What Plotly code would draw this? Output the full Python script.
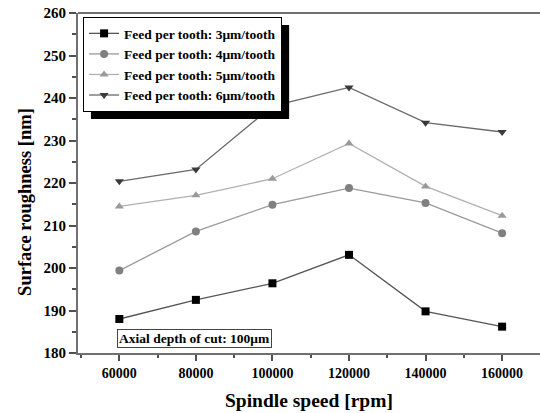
import plotly.graph_objects as go

spindle_speed = [60000, 80000, 100000, 120000, 140000, 160000]
feed_labels = ["Feed per tooth: 3\u03bcm/tooth", "Feed per tooth: 4\u03bcm/tooth",
               "Feed per tooth: 5\u03bcm/tooth", "Feed per tooth: 6\u03bcm/tooth"]
rough_3 = [188.0, 192.5, 196.4, 203.1, 189.8, 186.2]
rough_4 = [199.4, 208.6, 214.9, 218.8, 215.3, 208.2]
rough_5 = [214.5, 217.1, 221.0, 229.3, 219.2, 212.3]
rough_6 = [220.4, 223.2, 238.1, 242.5, 234.2, 232.0]

series = [rough_3, rough_4, rough_5, rough_6]
symbols = ["square", "circle", "triangle-up", "triangle-down"]
marker_colors = ["#000000", "#808080", "#999999", "#3a3a3a"]
line_colors = ["#555555", "#9a9a9a", "#b0b0b0", "#6a6a6a"]

FONT = "Liberation Serif"

fig = go.Figure()
for name, ys, sym, mc, lc in zip(feed_labels, series, symbols, marker_colors, line_colors):
    fig.add_trace(go.Scatter(
        x=spindle_speed, y=ys, name=name, mode="lines+markers",
        line=dict(color=lc, width=1.3),
        marker=dict(symbol=sym, color=mc, size=8, line=dict(width=0)),
    ))

fig.update_layout(
    width=540, height=413,
    margin=dict(l=78, r=0, t=13, b=60),
    paper_bgcolor="white", plot_bgcolor="white",
    font=dict(family=FONT, size=12, color="black", weight="bold"),
    showlegend=True,
    legend=dict(
        x=0.011, y=0.988, xanchor="left", yanchor="top",
        bgcolor="white", bordercolor="black", borderwidth=1,
        font=dict(family=FONT, size=13.5, weight="bold"),
        tracegroupgap=0, itemwidth=30,
    ),
    xaxis=dict(
        range=[49200, 169900], tickvals=spindle_speed,
        ticktext=[str(v) for v in spindle_speed],
        automargin=False,
        showgrid=False, zeroline=False,
        showline=True, linecolor="#707070", linewidth=2,
        ticks="outside", ticklen=6, tickwidth=1.5, tickcolor="#505050",
        minor=dict(ticks="outside", ticklen=3, tickwidth=1.5, tickcolor="#505050",
                   tickvals=[50000, 70000, 90000, 110000, 130000, 150000, 170000]),
        tickfont=dict(family=FONT, size=14, weight="bold"),
    ),
    yaxis=dict(
        range=[180, 260], dtick=10, tick0=180,
        automargin=False,
        showgrid=False, zeroline=False,
        showline=True, linecolor="#707070", linewidth=2,
        ticks="outside", ticklen=7, tickwidth=1.5, tickcolor="#505050",
        minor=dict(ticks="outside", ticklen=4, tickwidth=1.5, tickcolor="#505050", dtick=5),
        tickfont=dict(family=FONT, size=15, weight="bold"),
    ),
)

# axis titles
fig.add_annotation(xref="paper", yref="paper", x=0.5, y=-0.139, xanchor="center", yanchor="middle",
                   text="Spindle speed [rpm]", showarrow=False,
                   font=dict(family=FONT, size=19.5, weight="bold"))
fig.add_annotation(xref="paper", yref="paper", x=-0.115, y=0.444, xanchor="center", yanchor="middle",
                   text="Surface roughness [nm]", showarrow=False, textangle=-90,
                   font=dict(family=FONT, size=18.5, weight="bold"))

# top frame line
fig.add_shape(type="line", xref="paper", yref="paper", x0=0, x1=1, y0=1, y1=1,
              line=dict(color="#707070", width=2), layer="above")

# legend drop shadow
fig.add_shape(type="rect", xref="paper", yref="paper",
              x0=0.028, x1=0.457, y0=0.688, y1=0.965,
              fillcolor="black", line=dict(width=0), layer="above")

fig.add_annotation(
    xref="paper", yref="paper", x=0.084, y=0.044, xanchor="left", yanchor="middle",
    text="Axial depth of cut: 100\u03bcm", showarrow=False,
    font=dict(family=FONT, size=13.5, weight="bold"),
    bordercolor="#444444", borderwidth=1, borderpad=1, bgcolor="white",
)

fig.write_html("out.html", config={"displayModeBar": False},
               post_script="document.body.style.margin='0';document.body.style.padding='0';")
